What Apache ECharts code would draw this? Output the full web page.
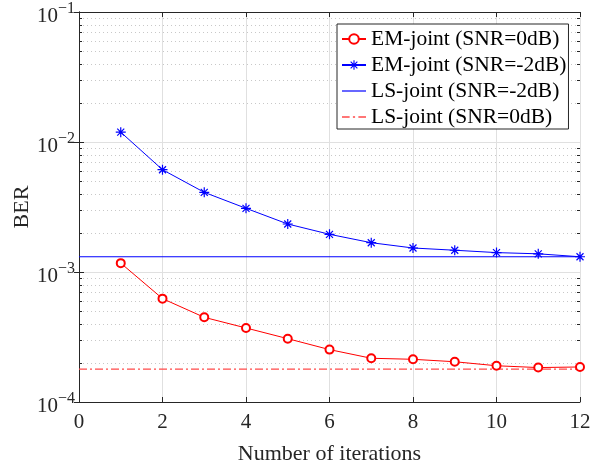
<!DOCTYPE html>
<html>
<head>
<meta charset="utf-8">
<script src="https://cdn.jsdelivr.net/npm/echarts@6/dist/echarts.min.js"></script>
<style>
  html, body { margin: 0; padding: 0; background: #fff; }
  #chart { width: 603px; height: 463px; }
</style>
</head>
<body>
<div id="chart"></div>
<script>
// data
const iterations = [1, 2, 3, 4, 5, 6, 7, 8, 9, 10, 11, 12]
const emJoint0dB = [1.17e-3, 6.24e-4, 4.48e-4, 3.71e-4, 3.07e-4, 2.53e-4, 2.17e-4, 2.13e-4, 2.04e-4, 1.90e-4, 1.84e-4, 1.86e-4]
const emJointM2dB = [1.19e-2, 6.12e-3, 4.10e-3, 3.09e-3, 2.34e-3, 1.95e-3, 1.68e-3, 1.53e-3, 1.47e-3, 1.41e-3, 1.38e-3, 1.31e-3]
const lsJointM2dB = 1.31e-3
const lsJoint0dB = 1.79e-4
const xRange = [0, 12]
const yRange = [1e-4, 1e-1]
// minor log ticks (2..9 per decade)
const minorTicks = [
  2e-4, 3e-4, 4e-4, 5e-4, 6e-4, 7e-4, 8e-4, 9e-4,
  2e-3, 3e-3, 4e-3, 5e-3, 6e-3, 7e-3, 8e-3, 9e-3,
  2e-2, 3e-2, 4e-2, 5e-2, 6e-2, 7e-2, 8e-2, 9e-2
]

const FONT = '"Liberation Serif", "Times New Roman", serif'
const AX = '#262626'
const starPath = 'path://M-5,-0.6L5,-0.6L5,0.6L-5,0.6Z' +
  'M-0.6,-5L0.6,-5L0.6,5L-0.6,5Z' +
  'M-3.08,-3.92L3.92,3.08L3.08,3.92L-3.92,-3.08Z' +
  'M3.92,-3.08L-3.08,3.92L-3.92,3.08L3.08,-3.92Z'
// legend icons for the plain lines
const solidIcon = 'path://M0,0L24,0L24,1.2L0,1.2Z'
const dashDotIcon = 'path://M0,0L7,0L7,1.4L0,1.4Z' +
  'M10,0L12,0L12,1.4L10,1.4Z' +
  'M15,0L22,0L22,1.4L15,1.4Z'

const chart = echarts.init(document.getElementById('chart'))

function minorRender (params, api) {
  const v = api.value(1)
  const p0 = api.coord([xRange[0], v])
  const p1 = api.coord([xRange[1], v])
  const y = Math.round(p0[1]) + 0.5
  return {
    type: 'group',
    children: [
      { type: 'line', shape: { x1: p0[0], y1: y, x2: p1[0], y2: y },
        style: { stroke: '#c8c8c8', lineWidth: 1, lineDash: [1, 3] } },
      { type: 'line', shape: { x1: p0[0], y1: y, x2: p0[0] + 3, y2: y },
        style: { stroke: AX, lineWidth: 1 } },
      { type: 'line', shape: { x1: p1[0] - 3, y1: y, x2: p1[0], y2: y },
        style: { stroke: AX, lineWidth: 1 } }
    ]
  }
}

const option = {
  animation: false,
  backgroundColor: '#fff',
  grid: { left: 79, right: 23, top: 12, bottom: 61, outerBoundsMode: 'none' },
  legend: {
    orient: 'vertical',
    left: 337,
    top: 24,
    padding: [4, 2, 1, 4],
    itemGap: 4,
    itemWidth: 24,
    itemHeight: 12,
    backgroundColor: '#fff',
    borderColor: AX,
    borderWidth: 1,
    textStyle: { fontFamily: FONT, fontSize: 21.5, color: '#000', lineHeight: 20 },
    data: [
      { name: 'EM-joint (SNR=0dB)' },
      { name: 'EM-joint (SNR=-2dB)' },
      { name: 'LS-joint (SNR=-2dB)', icon: solidIcon },
      { name: 'LS-joint (SNR=0dB)', icon: dashDotIcon }
    ]
  },
  xAxis: [{
    type: 'value',
    min: xRange[0], max: xRange[1], interval: 2,
    name: 'Number of iterations',
    nameLocation: 'middle',
    nameGap: 41,
    nameTextStyle: { fontFamily: FONT, fontSize: 22, color: AX },
    axisLine: { lineStyle: { color: AX, width: 1 } },
    axisTick: { inside: true, length: 5, lineStyle: { color: AX } },
    axisLabel: { margin: 10, fontFamily: FONT, fontSize: 21, color: AX },
    splitLine: { show: true, lineStyle: { color: '#e0e0e0', width: 1 } }
  }, {
    type: 'value', position: 'top',
    min: xRange[0], max: xRange[1], interval: 2,
    axisLine: { show: true, lineStyle: { color: AX, width: 1 } },
    axisTick: { inside: true, length: 5, lineStyle: { color: AX } },
    axisLabel: { show: false },
    splitLine: { show: false }
  }],
  yAxis: [{
    type: 'log', logBase: 10,
    min: yRange[0], max: yRange[1],
    name: 'BER',
    nameLocation: 'middle',
    nameGap: 46,
    nameMoveOverlap: false,
    nameTextStyle: { fontFamily: FONT, fontSize: 22, color: AX },
    axisLine: { show: true, lineStyle: { color: AX, width: 1 } },
    axisTick: { show: true, inside: true, length: 5, lineStyle: { color: AX } },
    axisLabel: {
      margin: 4,
      padding: [3, 0, 0, 0],
      formatter: v => '{b|10}{s|\u2212' + Math.abs(Math.round(Math.log10(v))) + '}',
      rich: {
        b: { fontFamily: FONT, fontSize: 21, color: AX, padding: [5, 0, 0, 0], verticalAlign: 'bottom' },
        s: { fontFamily: FONT, fontSize: 16, color: AX, padding: [0, 0, 10, 0], verticalAlign: 'top' }
      }
    },
    splitLine: { show: true, lineStyle: { color: '#e0e0e0', width: 1 } }
  }, {
    type: 'log', logBase: 10, position: 'right',
    min: yRange[0], max: yRange[1],
    axisLine: { show: true, lineStyle: { color: AX, width: 1 } },
    axisTick: { show: true, inside: true, length: 5, lineStyle: { color: AX } },
    axisLabel: { show: false },
    splitLine: { show: false }
  }],
  series: [
    {
      name: 'minor',
      type: 'custom',
      z: 1,
      silent: true,
      renderItem: minorRender,
      data: minorTicks.map(v => [xRange[0], v])
    },
    {
      name: 'EM-joint (SNR=0dB)',
      type: 'line',
      z: 4,
      data: iterations.map((x, i) => [x, emJoint0dB[i]]),
      symbol: 'emptyCircle',
      symbolSize: 8,
      lineStyle: { color: '#ff0000', width: 1 },
      itemStyle: { color: '#ff0000', borderWidth: 0.8 }
    },
    {
      name: 'EM-joint (SNR=-2dB)',
      type: 'line',
      z: 4,
      data: iterations.map((x, i) => [x, emJointM2dB[i]]),
      symbol: starPath,
      symbolSize: 10,
      lineStyle: { color: '#0000ff', width: 1 },
      itemStyle: { color: '#0000ff' }
    },
    {
      name: 'LS-joint (SNR=-2dB)',
      type: 'line',
      z: 3,
      data: [[xRange[0], lsJointM2dB], [xRange[1], lsJointM2dB]],
      symbol: 'none',
      lineStyle: { color: '#0000ff', width: 1.2 },
      itemStyle: { color: '#0000ff' }
    },
    {
      name: 'LS-joint (SNR=0dB)',
      type: 'line',
      z: 3,
      data: [[xRange[0], lsJoint0dB], [xRange[1], lsJoint0dB]],
      symbol: 'none',
      lineStyle: { color: '#ff4a4a', width: 1.3, type: [8, 3, 2, 3] },
      itemStyle: { color: '#ff4a4a' }
    }
  ]
}

chart.setOption(option)
window.addEventListener('resize', () => chart.resize())
</script>
</body>
</html>
